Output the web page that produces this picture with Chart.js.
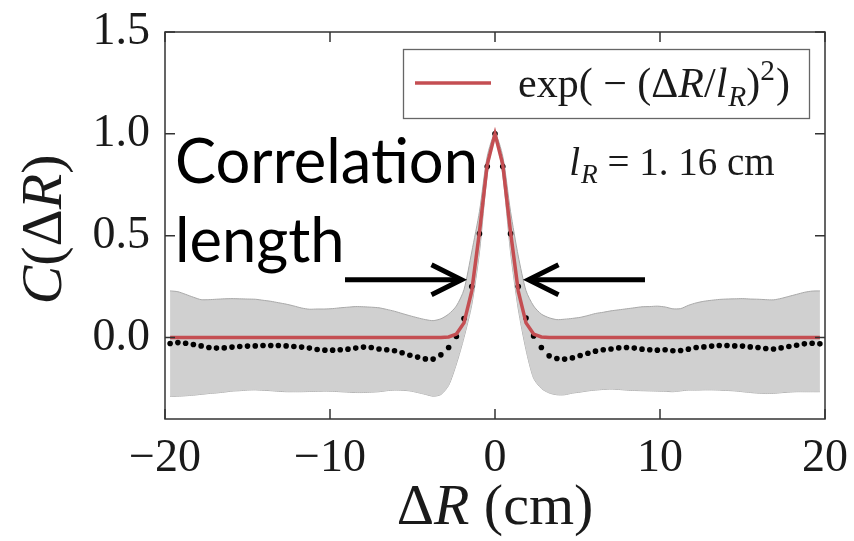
<!DOCTYPE html>
<html><head><meta charset="utf-8">
<script src="https://cdn.jsdelivr.net/npm/chart.js@4.4.1/dist/chart.umd.min.js"></script>
<style>html,body{margin:0;padding:0;background:#fff;}#wrap{width:854px;height:541px;}</style>
</head><body><div id="wrap"><canvas id="c" width="854" height="541"></canvas></div>
<script>
// ---------- data ----------
const xGrid = [-19.69,-19.22,-18.75,-18.28,-17.81,-17.34,-16.88,-16.41,-15.94,-15.47,-15.00,-14.53,-14.06,-13.59,-13.13,-12.66,-12.19,-11.72,-11.25,-10.78,-10.31,-9.84,-9.38,-8.91,-8.44,-7.97,-7.50,-7.03,-6.56,-6.09,-5.63,-5.16,-4.69,-4.22,-3.75,-3.28,-2.81,-2.34,-1.88,-1.41,-0.94,-0.47,0,
0.47,0.94,1.41,1.88,2.34,2.81,3.28,3.75,4.22,4.69,5.16,5.63,6.09,6.56,7.03,7.50,7.97,8.44,8.91,9.38,9.84,10.31,10.78,11.25,11.72,12.19,12.66,13.13,13.59,14.06,14.53,15.00,15.47,15.94,16.41,16.88,17.34,17.81,18.28,18.75,19.22,19.69];
const dotValues = [-0.029,-0.025,-0.028,-0.034,-0.041,-0.049,-0.052,-0.051,-0.047,-0.044,-0.042,-0.041,-0.039,-0.039,-0.039,-0.041,-0.044,-0.047,-0.052,-0.059,-0.062,-0.062,-0.060,-0.057,-0.052,-0.047,-0.049,-0.056,-0.060,-0.065,-0.075,-0.087,-0.096,-0.105,-0.106,-0.085,-0.049,0.005,0.093,0.25,0.51,0.84,1.0,
0.84,0.51,0.25,0.096,0.008,-0.049,-0.090,-0.103,-0.106,-0.100,-0.088,-0.077,-0.067,-0.060,-0.056,-0.051,-0.049,-0.052,-0.057,-0.060,-0.062,-0.060,-0.065,-0.064,-0.057,-0.049,-0.046,-0.042,-0.039,-0.039,-0.041,-0.042,-0.046,-0.049,-0.054,-0.056,-0.051,-0.044,-0.038,-0.031,-0.028,-0.031];
const bandUpper = [0.229,0.225,0.212,0.198,0.186,0.186,0.188,0.190,0.191,0.190,0.189,0.188,0.183,0.178,0.171,0.164,0.155,0.145,0.139,0.140,0.140,0.142,0.146,0.149,0.152,0.151,0.149,0.146,0.138,0.129,0.118,0.107,0.097,0.088,0.083,0.092,0.115,0.155,0.235,0.42,0.62,0.89,1.0,
0.89,0.62,0.40,0.23,0.155,0.115,0.097,0.088,0.090,0.094,0.099,0.108,0.118,0.124,0.131,0.136,0.141,0.146,0.151,0.152,0.154,0.150,0.141,0.142,0.158,0.170,0.178,0.183,0.187,0.189,0.190,0.191,0.189,0.188,0.186,0.185,0.192,0.202,0.212,0.222,0.228,0.229];
const bandLower = [-0.289,-0.288,-0.286,-0.283,-0.279,-0.275,-0.272,-0.268,-0.263,-0.261,-0.258,-0.257,-0.259,-0.261,-0.264,-0.266,-0.266,-0.266,-0.265,-0.264,-0.263,-0.264,-0.266,-0.268,-0.270,-0.270,-0.268,-0.266,-0.261,-0.258,-0.259,-0.262,-0.270,-0.279,-0.288,-0.280,-0.235,-0.13,0.0,0.16,0.42,0.80,1.0,
0.80,0.42,0.14,-0.06,-0.20,-0.25,-0.272,-0.281,-0.281,-0.273,-0.268,-0.262,-0.258,-0.255,-0.253,-0.255,-0.258,-0.260,-0.261,-0.262,-0.263,-0.264,-0.266,-0.262,-0.258,-0.258,-0.257,-0.257,-0.258,-0.260,-0.262,-0.266,-0.270,-0.273,-0.275,-0.274,-0.271,-0.268,-0.266,-0.266,-0.266,-0.266];
const fitX = [-19.69,-3.28,-2.81,-2.34,-1.88,-1.41,-0.94,-0.47,0,0.47,0.94,1.41,1.88,2.34,2.81,3.28,19.69];
const fitY = [0,0,0.003,0.017,0.072,0.228,0.519,0.849,1,0.849,0.519,0.228,0.072,0.017,0.003,0,0];
const xTickValues = [-20,-10,0,10,20];
const xTickLabels = ['\u221220','\u221210','0','10','20'];
const yTickValues = [0,0.5,1,1.5];
const yTickLabels = ['0.0','0.5','1.0','1.5'];
const noteLines = ['Correlation','length'];
const lengthLabel = '1. 16 cm';

const SERIF = '"Liberation Serif", "DejaVu Serif", serif';
const INK = '#1a1a1a';

function pts(xs, ys){ return xs.map((x,i)=>({x:x, y:ys[i]})); }

function richWidth(ctx, parts, size){
  let w = 0;
  for (const p of parts){
    const s = (p.sub||p.sup) ? size*0.7 : size;
    ctx.font = (p.i?'italic ':'') + s + 'px ' + SERIF;
    w += ctx.measureText(p.t).width + (p.gap||0);
  }
  return w;
}
function richDraw(ctx, x, y, parts, size){
  let cx = x;
  ctx.textBaseline = 'alphabetic';
  ctx.textAlign = 'left';
  for (const p of parts){
    const s = (p.sub||p.sup) ? size*0.7 : size;
    ctx.font = (p.i?'italic ':'') + s + 'px ' + SERIF;
    const dy = p.sub ? size*0.22 : (p.sup ? -size*0.4 : 0);
    ctx.fillText(p.t, cx, y+dy);
    cx += ctx.measureText(p.t).width + (p.gap||0);
  }
}

const decor = {
  id:'decor',
  afterDatasetsDraw(chart){
    const {ctx, chartArea:a, scales:{x,y}} = chart;
    ctx.save();
    // legend box
    const lx = a.right-16, ly = a.top+17, lw = 406, lh = 69;
    ctx.fillStyle = 'rgba(255,255,255,0.9)';
    ctx.fillRect(lx-lw, ly, lw, lh);
    ctx.strokeStyle = '#666'; ctx.lineWidth = 1.3;
    ctx.strokeRect(lx-lw+0.5, ly+0.5, lw, lh);
    ctx.strokeStyle = '#c44e52'; ctx.lineWidth = 3.5;
    ctx.beginPath(); ctx.moveTo(lx-lw+12, ly+34); ctx.lineTo(lx-lw+88, ly+34); ctx.stroke();
    ctx.fillStyle = INK;
    richDraw(ctx, lx-lw+115, ly+48, [
      {t:'exp('},{t:' \u2212 '},{t:'('},{t:'\u0394'},{t:'R',i:true},{t:'/'},{t:'l',i:true,gap:1},{t:'R',i:true,sub:true},{t:')'},{t:'2',sup:true,gap:1},{t:')'}
    ], 42);
    // l_R label
    richDraw(ctx, x.getPixelForValue(4.5), y.getPixelForValue(0.80), [
      {t:'l',i:true,gap:1},{t:'R',i:true,sub:true},{t:' = '},{t:lengthLabel}
    ], 39);
    ctx.restore();
  },
  afterDraw(chart){
    const {ctx, chartArea:a, scales:{x,y}} = chart;
    ctx.save();
    ctx.strokeStyle = '#333'; ctx.lineWidth = 1.5;
    ctx.strokeRect(a.left, a.top, a.right-a.left, a.bottom-a.top);
    ctx.beginPath();
    for (const v of xTickValues){
      const p = x.getPixelForValue(v);
      ctx.moveTo(p, a.bottom); ctx.lineTo(p, a.bottom-10);
      ctx.moveTo(p, a.top); ctx.lineTo(p, a.top+10);
    }
    for (const v of yTickValues){
      const p = y.getPixelForValue(v);
      ctx.moveTo(a.left, p); ctx.lineTo(a.left+10, p);
      ctx.moveTo(a.right, p); ctx.lineTo(a.right-10, p);
    }
    ctx.stroke();
    // axis titles
    ctx.fillStyle = INK;
    const xt = [{t:'\u0394'},{t:'R',i:true},{t:' (cm)'}];
    const xw = richWidth(ctx, xt, 58);
    richDraw(ctx, (a.left+a.right)/2 - xw/2, 524, xt, 58);
    const yt = [{t:'C',i:true},{t:'('},{t:'\u0394'},{t:'R',i:true},{t:')'}];
    const yw = richWidth(ctx, yt, 58);
    ctx.translate(46, (a.top+a.bottom)/2 + 4);
    ctx.rotate(-Math.PI/2);
    richDraw(ctx, -yw/2, 15, yt, 58);
    ctx.restore();

    // annotation text + arrows
    ctx.save();
    ctx.fillStyle = '#000';
    ctx.font = '100px Lato, "Open Sans", sans-serif';
    const m = ctx.measureText(noteLines[0]).width;
    const fs = 100*303/m;
    ctx.font = fs + 'px Lato, "Open Sans", sans-serif';
    ctx.textAlign = 'left'; ctx.textBaseline = 'alphabetic';
    const tx = x.getPixelForValue(-19.39);
    ctx.fillText(noteLines[0], tx, y.getPixelForValue(0.76));
    ctx.fillText(noteLines[1], tx, y.getPixelForValue(0.37));
    ctx.strokeStyle = '#000'; ctx.lineWidth = 5; ctx.lineCap = 'butt'; ctx.lineJoin = 'miter';
    const ay = y.getPixelForValue(0.284);
    const arrows = [[-9.09,-2.03],[9.09,2.03]];
    for (const [s,e] of arrows){
      const ps = x.getPixelForValue(s), pe = x.getPixelForValue(e);
      const dir = Math.sign(pe-ps);
      ctx.beginPath(); ctx.moveTo(ps, ay); ctx.lineTo(pe-dir*3, ay); ctx.stroke();
      ctx.beginPath(); ctx.moveTo(pe-dir*30, ay-15); ctx.lineTo(pe, ay); ctx.lineTo(pe-dir*30, ay+15); ctx.stroke();
    }
    ctx.restore();
  }
};

new Chart(document.getElementById('c'), {
  type:'line',
  data:{datasets:[
    {label:'fit', data:pts(fitX,fitY), borderColor:'#c44e52', borderWidth:3.5, pointRadius:0, tension:0, order:0, fill:false},
    {label:'dots', data:pts(xGrid,dotValues), showLine:false, pointRadius:2.8, pointBackgroundColor:'#000', pointBorderWidth:0, order:1},
    {label:'upper', data:pts(xGrid,bandUpper), borderColor:'#a8a8a8', borderWidth:1, pointRadius:0, tension:0.25, fill:'+1', backgroundColor:'#d0d0d0', order:2},
    {label:'lower', data:pts(xGrid,bandLower), borderColor:'#a8a8a8', borderWidth:1, pointRadius:0, tension:0.25, fill:false, order:3}
  ]},
  options:{
    responsive:false, animation:false, devicePixelRatio:1,
    layout:{padding:{top:32,right:29,left:0,bottom:0}},
    plugins:{legend:{display:false}, tooltip:{enabled:false}},
    scales:{
      x:{type:'linear', min:-20, max:20,
        afterBuildTicks(s){ s.ticks = xTickValues.map(v=>({value:v})); },
        afterFit(s){ s.height = 122; s.paddingLeft = 0; s.paddingRight = 0; },
        grid:{display:false, drawTicks:false}, border:{display:false},
        ticks:{padding:12, color:INK, font:{family:SERIF, size:46},
          callback(v){ const i = xTickValues.indexOf(v); return i>=0 ? xTickLabels[i] : ''; }}
      },
      y:{type:'linear', min:-0.4, max:1.5,
        afterBuildTicks(s){ s.ticks = yTickValues.map(v=>({value:v})); },
        afterFit(s){ s.width = 165; s.paddingTop = 0; s.paddingBottom = 0; },
        grid:{display:false, drawTicks:false}, border:{display:false},
        ticks:{padding:15, color:INK, font:{family:SERIF, size:46},
          callback(v){ const i = yTickValues.indexOf(v); return i>=0 ? yTickLabels[i] : ''; }}
      }
    }
  },
  plugins:[decor]
});
</script></body></html>
